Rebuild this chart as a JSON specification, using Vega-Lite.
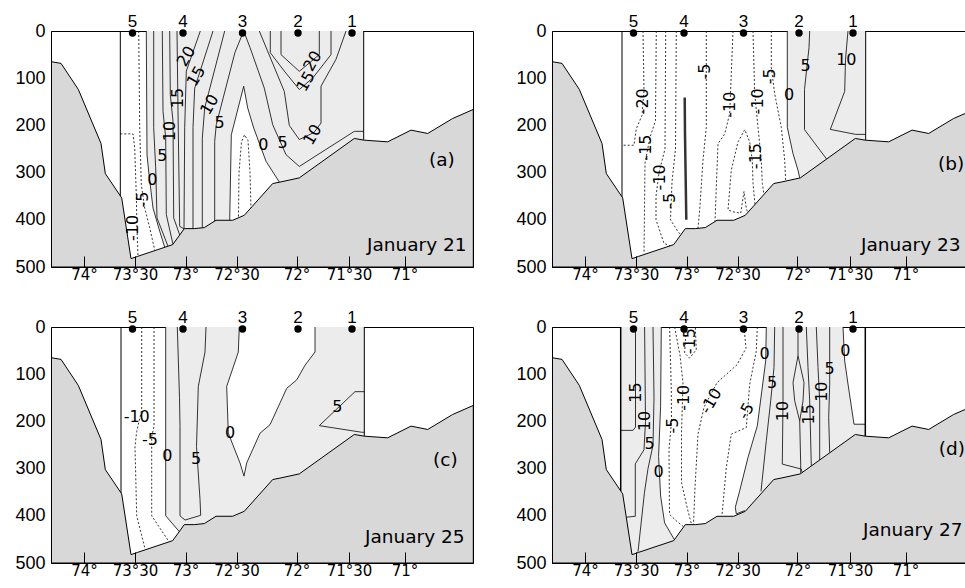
{
"$schema": "https://vega.github.io/schema/vega-lite/v6.json",
"padding": {"left": 14, "top": 12, "right": 0, "bottom": 0},
"background": "white",
"config": {"view": {"stroke": "#000000", "strokeWidth": 1}, "axis": {"grid": false}},
"datasets": {
"topo": [
{"s":0,"dist":0,"depth":65},{"s":1,"dist":10,"depth":68.6},{"s":2,"dist":27.3,"depth":123.7},{"s":3,"dist":50,"depth":238.3},{"s":4,"dist":54.3,"depth":302},{"s":5,"dist":70.7,"depth":353.6},{"s":6,"dist":80,"depth":482.3},{"s":7,"dist":86.7,"depth":477.4},{"s":8,"dist":121.7,"depth":452.6},{"s":9,"dist":133.3,"depth":418.7},{"s":10,"dist":143.3,"depth":418.7},{"s":11,"dist":153.3,"depth":416.5},{"s":12,"dist":165,"depth":401},{"s":13,"dist":181.7,"depth":401},{"s":14,"dist":193.3,"depth":390.4},{"s":15,"dist":221.7,"depth":323.2},{"s":16,"dist":230,"depth":319.7},{"s":17,"dist":248.3,"depth":311.2},{"s":18,"dist":303.3,"depth":227.7},{"s":19,"dist":313.3,"depth":231.3},{"s":20,"dist":336.7,"depth":234.8},{"s":21,"dist":360,"depth":210},{"s":22,"dist":376.7,"depth":217.1},{"s":23,"dist":401.7,"depth":185.3},{"s":24,"dist":422.3,"depth":166.2},{"s":25,"dist":422.3,"depth":500},{"s":26,"dist":0,"depth":500},{"s":27,"dist":0,"depth":65}
],
"stations": [
{"st":"5","dist":81.5,"depth":0},{"st":"4","dist":132,"depth":0},{"st":"3","dist":191.5,"depth":0},{"st":"2","dist":247,"depth":0},{"st":"1","dist":301,"depth":0}
],
"edges": [
{"p":"a","id":"L","s":0,"dist":69.3,"depth":0},{"p":"a","id":"L","s":1,"dist":69.3,"depth":350},
{"p":"a","id":"R","s":0,"dist":312.7,"depth":0},{"p":"a","id":"R","s":1,"dist":312.7,"depth":231},
{"p":"b","id":"L","s":0,"dist":70,"depth":0},{"p":"b","id":"L","s":1,"dist":70,"depth":352},
{"p":"b","id":"R","s":0,"dist":313.7,"depth":0},{"p":"b","id":"R","s":1,"dist":313.7,"depth":232},
{"p":"c","id":"L","s":0,"dist":70,"depth":0},{"p":"c","id":"L","s":1,"dist":70,"depth":352},
{"p":"c","id":"R","s":0,"dist":313.3,"depth":0},{"p":"c","id":"R","s":1,"dist":313.3,"depth":232},
{"p":"d","id":"L","s":0,"dist":68.7,"depth":0},{"p":"d","id":"L","s":1,"dist":68.7,"depth":348},
{"p":"d","id":"R","s":0,"dist":313.3,"depth":0},{"p":"d","id":"R","s":1,"dist":313.3,"depth":232}
],
"thick": [
{"s":0,"dist":132.7,"depth":141},{"s":1,"dist":133,"depth":218},{"s":2,"dist":134.3,"depth":400}
],
"fills": [
{"p":"a","k":"pos","id":"a1","s":0,"dist":95.3,"depth":0},{"p":"a","k":"pos","id":"a1","s":1,"dist":96,"depth":262},{"p":"a","k":"pos","id":"a1","s":2,"dist":98,"depth":304},{"p":"a","k":"pos","id":"a1","s":3,"dist":102,"depth":375},{"p":"a","k":"pos","id":"a1","s":4,"dist":108.7,"depth":424},{"p":"a","k":"pos","id":"a1","s":5,"dist":113.7,"depth":458},{"p":"a","k":"pos","id":"a1","s":6,"dist":113.7,"depth":500},{"p":"a","k":"pos","id":"a1","s":7,"dist":312.7,"depth":500},{"p":"a","k":"pos","id":"a1","s":8,"dist":312.7,"depth":0},
{"p":"a","k":"neg","id":"a2","s":0,"dist":178.7,"depth":402},{"p":"a","k":"neg","id":"a2","s":1,"dist":180.3,"depth":220},{"p":"a","k":"neg","id":"a2","s":2,"dist":192.7,"depth":117},{"p":"a","k":"neg","id":"a2","s":3,"dist":196.7,"depth":163},{"p":"a","k":"neg","id":"a2","s":4,"dist":202.7,"depth":205.5},{"p":"a","k":"neg","id":"a2","s":5,"dist":215,"depth":276},{"p":"a","k":"neg","id":"a2","s":6,"dist":228.3,"depth":320},{"p":"a","k":"neg","id":"a2","s":7,"dist":228.3,"depth":500},{"p":"a","k":"neg","id":"a2","s":8,"dist":178.7,"depth":500},
{"p":"b","k":"pos","id":"b1","s":0,"dist":235.3,"depth":0},{"p":"b","k":"pos","id":"b1","s":1,"dist":235.3,"depth":204},{"p":"b","k":"pos","id":"b1","s":2,"dist":241,"depth":260},{"p":"b","k":"pos","id":"b1","s":3,"dist":246,"depth":295},{"p":"b","k":"pos","id":"b1","s":4,"dist":247.7,"depth":311},{"p":"b","k":"pos","id":"b1","s":5,"dist":247.7,"depth":500},{"p":"b","k":"pos","id":"b1","s":6,"dist":313.7,"depth":500},{"p":"b","k":"pos","id":"b1","s":7,"dist":313.7,"depth":0},
{"p":"c","k":"pos","id":"c1","s":0,"dist":114.7,"depth":0},{"p":"c","k":"pos","id":"c1","s":1,"dist":114.7,"depth":400},{"p":"c","k":"pos","id":"c1","s":2,"dist":128.5,"depth":434},{"p":"c","k":"pos","id":"c1","s":3,"dist":128.5,"depth":500},{"p":"c","k":"pos","id":"c1","s":4,"dist":313.3,"depth":500},{"p":"c","k":"pos","id":"c1","s":5,"dist":313.3,"depth":0},
{"p":"c","k":"neg","id":"c2","s":0,"dist":188.3,"depth":0},{"p":"c","k":"neg","id":"c2","s":1,"dist":187.3,"depth":53},{"p":"c","k":"neg","id":"c2","s":2,"dist":175.7,"depth":126},{"p":"c","k":"neg","id":"c2","s":3,"dist":177.3,"depth":225},{"p":"c","k":"neg","id":"c2","s":4,"dist":189,"depth":288},{"p":"c","k":"neg","id":"c2","s":5,"dist":193,"depth":316},{"p":"c","k":"neg","id":"c2","s":6,"dist":195.7,"depth":288},{"p":"c","k":"neg","id":"c2","s":7,"dist":209,"depth":225},{"p":"c","k":"neg","id":"c2","s":8,"dist":219,"depth":207},{"p":"c","k":"neg","id":"c2","s":9,"dist":235.7,"depth":130},{"p":"c","k":"neg","id":"c2","s":10,"dist":245.7,"depth":112},{"p":"c","k":"neg","id":"c2","s":11,"dist":254,"depth":81},{"p":"c","k":"neg","id":"c2","s":12,"dist":264,"depth":53},{"p":"c","k":"neg","id":"c2","s":13,"dist":264,"depth":0},
{"p":"d","k":"pos","id":"d1","s":0,"dist":68.7,"depth":0},{"p":"d","k":"pos","id":"d1","s":1,"dist":109.3,"depth":0},{"p":"d","k":"pos","id":"d1","s":2,"dist":108.6,"depth":168},{"p":"d","k":"pos","id":"d1","s":3,"dist":106.6,"depth":274},{"p":"d","k":"pos","id":"d1","s":4,"dist":108.6,"depth":358},{"p":"d","k":"pos","id":"d1","s":5,"dist":112.6,"depth":415},{"p":"d","k":"pos","id":"d1","s":6,"dist":122.5,"depth":451},{"p":"d","k":"pos","id":"d1","s":7,"dist":122.5,"depth":500},{"p":"d","k":"pos","id":"d1","s":8,"dist":68.7,"depth":500},
{"p":"d","k":"pos","id":"d2","s":0,"dist":214.3,"depth":0},{"p":"d","k":"pos","id":"d2","s":1,"dist":213.7,"depth":72},{"p":"d","k":"pos","id":"d2","s":2,"dist":205.3,"depth":209.4},{"p":"d","k":"pos","id":"d2","s":3,"dist":196,"depth":276.4},{"p":"d","k":"pos","id":"d2","s":4,"dist":187.7,"depth":347},{"p":"d","k":"pos","id":"d2","s":5,"dist":183.3,"depth":382},{"p":"d","k":"pos","id":"d2","s":6,"dist":184.3,"depth":396},{"p":"d","k":"pos","id":"d2","s":7,"dist":192.7,"depth":389},{"p":"d","k":"pos","id":"d2","s":8,"dist":192.7,"depth":500},{"p":"d","k":"pos","id":"d2","s":9,"dist":313.3,"depth":500},{"p":"d","k":"pos","id":"d2","s":10,"dist":313.3,"depth":206},{"p":"d","k":"pos","id":"d2","s":11,"dist":302,"depth":206},{"p":"d","k":"pos","id":"d2","s":12,"dist":296,"depth":121},{"p":"d","k":"pos","id":"d2","s":13,"dist":292.7,"depth":72},{"p":"d","k":"pos","id":"d2","s":14,"dist":291,"depth":0}
],
"cont": [
{"p":"a","id":"a1","lv":-10,"s":0,"dist":69.3,"depth":218},{"p":"a","id":"a1","lv":-10,"s":1,"dist":82,"depth":218},{"p":"a","id":"a1","lv":-10,"s":2,"dist":83.7,"depth":248},{"p":"a","id":"a1","lv":-10,"s":3,"dist":85.3,"depth":347},{"p":"a","id":"a1","lv":-10,"s":4,"dist":86,"depth":418},{"p":"a","id":"a1","lv":-10,"s":5,"dist":87,"depth":477},
{"p":"a","id":"a2","lv":-5,"s":0,"dist":87.7,"depth":0},{"p":"a","id":"a2","lv":-5,"s":1,"dist":88.7,"depth":205},{"p":"a","id":"a2","lv":-5,"s":2,"dist":90.3,"depth":325},{"p":"a","id":"a2","lv":-5,"s":3,"dist":93.7,"depth":375},{"p":"a","id":"a2","lv":-5,"s":4,"dist":98.7,"depth":417},{"p":"a","id":"a2","lv":-5,"s":5,"dist":103.7,"depth":464},
{"p":"a","id":"a3","lv":-5,"s":0,"dist":187.5,"depth":393},{"p":"a","id":"a3","lv":-5,"s":1,"dist":188,"depth":300},{"p":"a","id":"a3","lv":-5,"s":2,"dist":190.5,"depth":235},{"p":"a","id":"a3","lv":-5,"s":3,"dist":193.5,"depth":220},{"p":"a","id":"a3","lv":-5,"s":4,"dist":197,"depth":232},{"p":"a","id":"a3","lv":-5,"s":5,"dist":199,"depth":300},{"p":"a","id":"a3","lv":-5,"s":6,"dist":200,"depth":376},
{"p":"a","id":"a4","lv":0,"s":0,"dist":95.3,"depth":0},{"p":"a","id":"a4","lv":0,"s":1,"dist":96,"depth":262},{"p":"a","id":"a4","lv":0,"s":2,"dist":98,"depth":304},{"p":"a","id":"a4","lv":0,"s":3,"dist":102,"depth":375},{"p":"a","id":"a4","lv":0,"s":4,"dist":108.7,"depth":424},{"p":"a","id":"a4","lv":0,"s":5,"dist":113.7,"depth":458},
{"p":"a","id":"a5","lv":5,"s":0,"dist":102.7,"depth":0},{"p":"a","id":"a5","lv":5,"s":1,"dist":102.7,"depth":205},{"p":"a","id":"a5","lv":5,"s":2,"dist":104.7,"depth":290},{"p":"a","id":"a5","lv":5,"s":3,"dist":106,"depth":396},{"p":"a","id":"a5","lv":5,"s":4,"dist":117,"depth":456},
{"p":"a","id":"a6","lv":10,"s":0,"dist":111.3,"depth":0},{"p":"a","id":"a6","lv":10,"s":1,"dist":112,"depth":170},{"p":"a","id":"a6","lv":10,"s":2,"dist":114.7,"depth":227},{"p":"a","id":"a6","lv":10,"s":3,"dist":115.3,"depth":389},{"p":"a","id":"a6","lv":10,"s":4,"dist":122,"depth":452},
{"p":"a","id":"a7","lv":15,"s":0,"dist":118.7,"depth":0},{"p":"a","id":"a7","lv":15,"s":1,"dist":119.3,"depth":135},{"p":"a","id":"a7","lv":15,"s":2,"dist":122,"depth":191},{"p":"a","id":"a7","lv":15,"s":3,"dist":122.7,"depth":396},{"p":"a","id":"a7","lv":15,"s":4,"dist":128.7,"depth":432},
{"p":"a","id":"a8","lv":20,"s":0,"dist":126,"depth":0},{"p":"a","id":"a8","lv":20,"s":1,"dist":127,"depth":170},{"p":"a","id":"a8","lv":20,"s":2,"dist":128.7,"depth":414},{"p":"a","id":"a8","lv":20,"s":3,"dist":133,"depth":419},{"p":"a","id":"a8","lv":20,"s":4,"dist":133.7,"depth":205},{"p":"a","id":"a8","lv":20,"s":5,"dist":135.3,"depth":85},{"p":"a","id":"a8","lv":20,"s":6,"dist":149.3,"depth":0},
{"p":"a","id":"a9","lv":15,"s":0,"dist":162,"depth":0},{"p":"a","id":"a9","lv":15,"s":1,"dist":143.7,"depth":121},{"p":"a","id":"a9","lv":15,"s":2,"dist":142,"depth":205},{"p":"a","id":"a9","lv":15,"s":3,"dist":142,"depth":419},
{"p":"a","id":"a10","lv":10,"s":0,"dist":173.7,"depth":0},{"p":"a","id":"a10","lv":10,"s":1,"dist":153.7,"depth":163},{"p":"a","id":"a10","lv":10,"s":2,"dist":151.3,"depth":227},{"p":"a","id":"a10","lv":10,"s":3,"dist":151.3,"depth":417},
{"p":"a","id":"a11","lv":5,"s":0,"dist":163.7,"depth":404},{"p":"a","id":"a11","lv":5,"s":1,"dist":163.7,"depth":234},{"p":"a","id":"a11","lv":5,"s":2,"dist":165.3,"depth":198},{"p":"a","id":"a11","lv":5,"s":3,"dist":184,"depth":45},{"p":"a","id":"a11","lv":5,"s":4,"dist":192.7,"depth":0},{"p":"a","id":"a11","lv":5,"s":5,"dist":199,"depth":35},{"p":"a","id":"a11","lv":5,"s":6,"dist":213.3,"depth":121},{"p":"a","id":"a11","lv":5,"s":7,"dist":221.7,"depth":198.5},{"p":"a","id":"a11","lv":5,"s":8,"dist":235,"depth":262},{"p":"a","id":"a11","lv":5,"s":9,"dist":248.3,"depth":287},{"p":"a","id":"a11","lv":5,"s":10,"dist":303.3,"depth":212.6},{"p":"a","id":"a11","lv":5,"s":11,"dist":312.7,"depth":212.6},
{"p":"a","id":"a12","lv":0,"s":0,"dist":178.7,"depth":402},{"p":"a","id":"a12","lv":0,"s":1,"dist":180.3,"depth":220},{"p":"a","id":"a12","lv":0,"s":2,"dist":192.7,"depth":117},{"p":"a","id":"a12","lv":0,"s":3,"dist":196.7,"depth":163},{"p":"a","id":"a12","lv":0,"s":4,"dist":202.7,"depth":205.5},{"p":"a","id":"a12","lv":0,"s":5,"dist":215,"depth":276},{"p":"a","id":"a12","lv":0,"s":6,"dist":228.3,"depth":320},
{"p":"a","id":"a13","lv":10,"s":0,"dist":208.3,"depth":0},{"p":"a","id":"a13","lv":10,"s":1,"dist":220,"depth":60},{"p":"a","id":"a13","lv":10,"s":2,"dist":233.3,"depth":128},{"p":"a","id":"a13","lv":10,"s":3,"dist":238.3,"depth":200},{"p":"a","id":"a13","lv":10,"s":4,"dist":248.3,"depth":230},{"p":"a","id":"a13","lv":10,"s":5,"dist":263,"depth":215},{"p":"a","id":"a13","lv":10,"s":6,"dist":270,"depth":195},{"p":"a","id":"a13","lv":10,"s":7,"dist":270,"depth":117},{"p":"a","id":"a13","lv":10,"s":8,"dist":285,"depth":60},{"p":"a","id":"a13","lv":10,"s":9,"dist":295,"depth":0},
{"p":"a","id":"a14","lv":15,"s":0,"dist":219.3,"depth":0},{"p":"a","id":"a14","lv":15,"s":1,"dist":219.3,"depth":46},{"p":"a","id":"a14","lv":15,"s":2,"dist":233.3,"depth":85},{"p":"a","id":"a14","lv":15,"s":3,"dist":248.3,"depth":124},{"p":"a","id":"a14","lv":15,"s":4,"dist":262,"depth":99},{"p":"a","id":"a14","lv":15,"s":5,"dist":280,"depth":50},{"p":"a","id":"a14","lv":15,"s":6,"dist":280,"depth":0},
{"p":"a","id":"a15","lv":20,"s":0,"dist":230,"depth":0},{"p":"a","id":"a15","lv":20,"s":1,"dist":230,"depth":50},{"p":"a","id":"a15","lv":20,"s":2,"dist":248.3,"depth":85.5},{"p":"a","id":"a15","lv":20,"s":3,"dist":268.3,"depth":50},{"p":"a","id":"a15","lv":20,"s":4,"dist":268.3,"depth":0},
{"p":"b","id":"b1","lv":-20,"s":0,"dist":91,"depth":0},{"p":"b","id":"b1","lv":-20,"s":1,"dist":92,"depth":126},{"p":"b","id":"b1","lv":-20,"s":2,"dist":90,"depth":179},{"p":"b","id":"b1","lv":-20,"s":3,"dist":84.3,"depth":207},{"p":"b","id":"b1","lv":-20,"s":4,"dist":82,"depth":242},{"p":"b","id":"b1","lv":-20,"s":5,"dist":70,"depth":242},
{"p":"b","id":"b2","lv":-15,"s":0,"dist":104.3,"depth":0},{"p":"b","id":"b2","lv":-15,"s":1,"dist":103.5,"depth":190},{"p":"b","id":"b2","lv":-15,"s":2,"dist":98,"depth":225},{"p":"b","id":"b2","lv":-15,"s":3,"dist":93,"depth":280},{"p":"b","id":"b2","lv":-15,"s":4,"dist":92,"depth":472},
{"p":"b","id":"b3","lv":-10,"s":0,"dist":113.7,"depth":0},{"p":"b","id":"b3","lv":-10,"s":1,"dist":113,"depth":250},{"p":"b","id":"b3","lv":-10,"s":2,"dist":107,"depth":300},{"p":"b","id":"b3","lv":-10,"s":3,"dist":104,"depth":350},{"p":"b","id":"b3","lv":-10,"s":4,"dist":104,"depth":400},{"p":"b","id":"b3","lv":-10,"s":5,"dist":112,"depth":450},{"p":"b","id":"b3","lv":-10,"s":6,"dist":118,"depth":455},
{"p":"b","id":"b4","lv":-5,"s":0,"dist":124.3,"depth":0},{"p":"b","id":"b4","lv":-5,"s":1,"dist":123.5,"depth":250},{"p":"b","id":"b4","lv":-5,"s":2,"dist":120,"depth":320},{"p":"b","id":"b4","lv":-5,"s":3,"dist":118.5,"depth":400},{"p":"b","id":"b4","lv":-5,"s":4,"dist":126,"depth":425},{"p":"b","id":"b4","lv":-5,"s":5,"dist":129,"depth":432},
{"p":"b","id":"b5","lv":-5,"s":0,"dist":154.3,"depth":0},{"p":"b","id":"b5","lv":-5,"s":1,"dist":154.3,"depth":204},{"p":"b","id":"b5","lv":-5,"s":2,"dist":151,"depth":274},{"p":"b","id":"b5","lv":-5,"s":3,"dist":147.7,"depth":379},{"p":"b","id":"b5","lv":-5,"s":4,"dist":146,"depth":418},
{"p":"b","id":"b6","lv":-10,"s":0,"dist":181,"depth":0},{"p":"b","id":"b6","lv":-10,"s":1,"dist":177.7,"depth":175},{"p":"b","id":"b6","lv":-10,"s":2,"dist":172.7,"depth":218},{"p":"b","id":"b6","lv":-10,"s":3,"dist":166,"depth":239},{"p":"b","id":"b6","lv":-10,"s":4,"dist":164.3,"depth":330},{"p":"b","id":"b6","lv":-10,"s":5,"dist":163,"depth":404},
{"p":"b","id":"b7","lv":-15,"s":0,"dist":203,"depth":367},{"p":"b","id":"b7","lv":-15,"s":1,"dist":201,"depth":323},{"p":"b","id":"b7","lv":-15,"s":2,"dist":200.3,"depth":274},{"p":"b","id":"b7","lv":-15,"s":3,"dist":197.7,"depth":235},{"p":"b","id":"b7","lv":-15,"s":4,"dist":192.7,"depth":209},{"p":"b","id":"b7","lv":-15,"s":5,"dist":186,"depth":235},{"p":"b","id":"b7","lv":-15,"s":6,"dist":179.3,"depth":295},{"p":"b","id":"b7","lv":-15,"s":7,"dist":176,"depth":379},{"p":"b","id":"b7","lv":-15,"s":8,"dist":181,"depth":383},{"p":"b","id":"b7","lv":-15,"s":9,"dist":188.7,"depth":386},{"p":"b","id":"b7","lv":-15,"s":10,"dist":192,"depth":340},{"p":"b","id":"b7","lv":-15,"s":11,"dist":194.3,"depth":376},{"p":"b","id":"b7","lv":-15,"s":12,"dist":196,"depth":386},
{"p":"b","id":"b8","lv":-10,"s":0,"dist":201,"depth":0},{"p":"b","id":"b8","lv":-10,"s":1,"dist":202.7,"depth":133},{"p":"b","id":"b8","lv":-10,"s":2,"dist":206,"depth":204},{"p":"b","id":"b8","lv":-10,"s":3,"dist":209.3,"depth":274},{"p":"b","id":"b8","lv":-10,"s":4,"dist":210.3,"depth":323},{"p":"b","id":"b8","lv":-10,"s":5,"dist":212,"depth":346},
{"p":"b","id":"b9","lv":-5,"s":0,"dist":219.3,"depth":0},{"p":"b","id":"b9","lv":-5,"s":1,"dist":219.3,"depth":77},{"p":"b","id":"b9","lv":-5,"s":2,"dist":222.7,"depth":133},{"p":"b","id":"b9","lv":-5,"s":3,"dist":229.3,"depth":204},{"p":"b","id":"b9","lv":-5,"s":4,"dist":232.7,"depth":274},{"p":"b","id":"b9","lv":-5,"s":5,"dist":233.7,"depth":318},
{"p":"b","id":"b10","lv":0,"s":0,"dist":235.3,"depth":0},{"p":"b","id":"b10","lv":0,"s":1,"dist":235.3,"depth":204},{"p":"b","id":"b10","lv":0,"s":2,"dist":241,"depth":260},{"p":"b","id":"b10","lv":0,"s":3,"dist":246,"depth":295},{"p":"b","id":"b10","lv":0,"s":4,"dist":247.7,"depth":311},
{"p":"b","id":"b11","lv":5,"s":0,"dist":257.7,"depth":0},{"p":"b","id":"b11","lv":5,"s":1,"dist":257,"depth":35},{"p":"b","id":"b11","lv":5,"s":2,"dist":252.5,"depth":124},{"p":"b","id":"b11","lv":5,"s":3,"dist":252.5,"depth":209},{"p":"b","id":"b11","lv":5,"s":4,"dist":274.5,"depth":271},
{"p":"b","id":"b12","lv":10,"s":0,"dist":296,"depth":0},{"p":"b","id":"b12","lv":10,"s":1,"dist":293.5,"depth":60},{"p":"b","id":"b12","lv":10,"s":2,"dist":292.7,"depth":128},{"p":"b","id":"b12","lv":10,"s":3,"dist":278.3,"depth":208.5},{"p":"b","id":"b12","lv":10,"s":4,"dist":303.7,"depth":219},{"p":"b","id":"b12","lv":10,"s":5,"dist":313.7,"depth":219},
{"p":"c","id":"c1","lv":-10,"s":0,"dist":90.7,"depth":0},{"p":"c","id":"c1","lv":-10,"s":1,"dist":90.7,"depth":176},{"p":"c","id":"c1","lv":-10,"s":2,"dist":85.7,"depth":221},{"p":"c","id":"c1","lv":-10,"s":3,"dist":84,"depth":253},{"p":"c","id":"c1","lv":-10,"s":4,"dist":85.7,"depth":400},{"p":"c","id":"c1","lv":-10,"s":5,"dist":94,"depth":470},
{"p":"c","id":"c2","lv":-5,"s":0,"dist":103,"depth":0},{"p":"c","id":"c2","lv":-5,"s":1,"dist":103,"depth":211},{"p":"c","id":"c2","lv":-5,"s":2,"dist":100.7,"depth":232},{"p":"c","id":"c2","lv":-5,"s":3,"dist":100.7,"depth":400},{"p":"c","id":"c2","lv":-5,"s":4,"dist":118,"depth":455},
{"p":"c","id":"c3","lv":0,"s":0,"dist":114.7,"depth":0},{"p":"c","id":"c3","lv":0,"s":1,"dist":114.7,"depth":400},{"p":"c","id":"c3","lv":0,"s":2,"dist":128.5,"depth":434},
{"p":"c","id":"c4","lv":5,"s":0,"dist":126.3,"depth":0},{"p":"c","id":"c4","lv":5,"s":1,"dist":128.5,"depth":150},{"p":"c","id":"c4","lv":5,"s":2,"dist":129,"depth":211},{"p":"c","id":"c4","lv":5,"s":3,"dist":129,"depth":400},{"p":"c","id":"c4","lv":5,"s":4,"dist":134,"depth":409},{"p":"c","id":"c4","lv":5,"s":5,"dist":149.7,"depth":399},{"p":"c","id":"c4","lv":5,"s":6,"dist":149,"depth":365},{"p":"c","id":"c4","lv":5,"s":7,"dist":145.5,"depth":253},{"p":"c","id":"c4","lv":5,"s":8,"dist":147.3,"depth":126},{"p":"c","id":"c4","lv":5,"s":9,"dist":154,"depth":53},{"p":"c","id":"c4","lv":5,"s":10,"dist":155,"depth":0},
{"p":"c","id":"c5","lv":0,"s":0,"dist":188.3,"depth":0},{"p":"c","id":"c5","lv":0,"s":1,"dist":187.3,"depth":53},{"p":"c","id":"c5","lv":0,"s":2,"dist":175.7,"depth":126},{"p":"c","id":"c5","lv":0,"s":3,"dist":177.3,"depth":225},{"p":"c","id":"c5","lv":0,"s":4,"dist":189,"depth":288},{"p":"c","id":"c5","lv":0,"s":5,"dist":193,"depth":316},{"p":"c","id":"c5","lv":0,"s":6,"dist":195.7,"depth":288},{"p":"c","id":"c5","lv":0,"s":7,"dist":209,"depth":225},{"p":"c","id":"c5","lv":0,"s":8,"dist":219,"depth":207},{"p":"c","id":"c5","lv":0,"s":9,"dist":235.7,"depth":130},{"p":"c","id":"c5","lv":0,"s":10,"dist":245.7,"depth":112},{"p":"c","id":"c5","lv":0,"s":11,"dist":254,"depth":81},{"p":"c","id":"c5","lv":0,"s":12,"dist":264,"depth":53},{"p":"c","id":"c5","lv":0,"s":13,"dist":264,"depth":0},
{"p":"c","id":"c6","lv":5,"s":0,"dist":313.3,"depth":137},{"p":"c","id":"c6","lv":5,"s":1,"dist":304,"depth":137},{"p":"c","id":"c6","lv":5,"s":2,"dist":268.3,"depth":209},{"p":"c","id":"c6","lv":5,"s":3,"dist":310.7,"depth":223},{"p":"c","id":"c6","lv":5,"s":4,"dist":313.3,"depth":223},
{"p":"d","id":"d1","lv":15,"s":0,"dist":83.5,"depth":0},{"p":"d","id":"d1","lv":15,"s":1,"dist":83.5,"depth":212},{"p":"d","id":"d1","lv":15,"s":2,"dist":81,"depth":219},{"p":"d","id":"d1","lv":15,"s":3,"dist":68.7,"depth":219},
{"p":"d","id":"d2","lv":10,"s":0,"dist":92.6,"depth":0},{"p":"d","id":"d2","lv":10,"s":1,"dist":93.5,"depth":200},{"p":"d","id":"d2","lv":10,"s":2,"dist":92,"depth":260},{"p":"d","id":"d2","lv":10,"s":3,"dist":83.3,"depth":290},{"p":"d","id":"d2","lv":10,"s":4,"dist":83.3,"depth":401},{"p":"d","id":"d2","lv":10,"s":5,"dist":74.5,"depth":403},
{"p":"d","id":"d3","lv":5,"s":0,"dist":101,"depth":0},{"p":"d","id":"d3","lv":5,"s":1,"dist":102,"depth":150},{"p":"d","id":"d3","lv":5,"s":2,"dist":101,"depth":250},{"p":"d","id":"d3","lv":5,"s":3,"dist":96,"depth":300},{"p":"d","id":"d3","lv":5,"s":4,"dist":92.5,"depth":350},{"p":"d","id":"d3","lv":5,"s":5,"dist":86,"depth":476},
{"p":"d","id":"d4","lv":0,"s":0,"dist":109.3,"depth":0},{"p":"d","id":"d4","lv":0,"s":1,"dist":108.6,"depth":168},{"p":"d","id":"d4","lv":0,"s":2,"dist":106.6,"depth":274},{"p":"d","id":"d4","lv":0,"s":3,"dist":108.6,"depth":358},{"p":"d","id":"d4","lv":0,"s":4,"dist":112.6,"depth":415},{"p":"d","id":"d4","lv":0,"s":5,"dist":122.5,"depth":451},
{"p":"d","id":"d5","lv":-5,"s":0,"dist":117.6,"depth":0},{"p":"d","id":"d5","lv":-5,"s":1,"dist":119.3,"depth":133},{"p":"d","id":"d5","lv":-5,"s":2,"dist":119.5,"depth":200},{"p":"d","id":"d5","lv":-5,"s":3,"dist":117,"depth":260},{"p":"d","id":"d5","lv":-5,"s":4,"dist":117.5,"depth":397},{"p":"d","id":"d5","lv":-5,"s":5,"dist":125,"depth":412},{"p":"d","id":"d5","lv":-5,"s":6,"dist":131.5,"depth":423},
{"p":"d","id":"d6","lv":-10,"s":0,"dist":122.6,"depth":0},{"p":"d","id":"d6","lv":-10,"s":1,"dist":128,"depth":60},{"p":"d","id":"d6","lv":-10,"s":2,"dist":131,"depth":118},{"p":"d","id":"d6","lv":-10,"s":3,"dist":129.5,"depth":224},{"p":"d","id":"d6","lv":-10,"s":4,"dist":129.5,"depth":330},{"p":"d","id":"d6","lv":-10,"s":5,"dist":136,"depth":390},{"p":"d","id":"d6","lv":-10,"s":6,"dist":139.5,"depth":418},
{"p":"d","id":"d7","lv":-15,"s":0,"dist":134.3,"depth":0},{"p":"d","id":"d7","lv":-15,"s":1,"dist":132.6,"depth":55},{"p":"d","id":"d7","lv":-15,"s":2,"dist":137.6,"depth":66},{"p":"d","id":"d7","lv":-15,"s":3,"dist":144.3,"depth":48},{"p":"d","id":"d7","lv":-15,"s":4,"dist":143.3,"depth":0},
{"p":"d","id":"d8","lv":-10,"s":0,"dist":192,"depth":0},{"p":"d","id":"d8","lv":-10,"s":1,"dist":194,"depth":45},{"p":"d","id":"d8","lv":-10,"s":2,"dist":185,"depth":80},{"p":"d","id":"d8","lv":-10,"s":3,"dist":165,"depth":118},{"p":"d","id":"d8","lv":-10,"s":4,"dist":152,"depth":170},{"p":"d","id":"d8","lv":-10,"s":5,"dist":146,"depth":227},{"p":"d","id":"d8","lv":-10,"s":6,"dist":143,"depth":340},{"p":"d","id":"d8","lv":-10,"s":7,"dist":141.5,"depth":418},
{"p":"d","id":"d9","lv":-5,"s":0,"dist":205.3,"depth":0},{"p":"d","id":"d9","lv":-5,"s":1,"dist":204.3,"depth":51},{"p":"d","id":"d9","lv":-5,"s":2,"dist":197.7,"depth":121},{"p":"d","id":"d9","lv":-5,"s":3,"dist":194.3,"depth":213},{"p":"d","id":"d9","lv":-5,"s":4,"dist":179.3,"depth":227},{"p":"d","id":"d9","lv":-5,"s":5,"dist":174.3,"depth":298},{"p":"d","id":"d9","lv":-5,"s":6,"dist":170,"depth":399},
{"p":"d","id":"d10","lv":0,"s":0,"dist":214.3,"depth":0},{"p":"d","id":"d10","lv":0,"s":1,"dist":213.7,"depth":72},{"p":"d","id":"d10","lv":0,"s":2,"dist":205.3,"depth":209.4},{"p":"d","id":"d10","lv":0,"s":3,"dist":196,"depth":276.4},{"p":"d","id":"d10","lv":0,"s":4,"dist":187.7,"depth":347},{"p":"d","id":"d10","lv":0,"s":5,"dist":183.3,"depth":382},{"p":"d","id":"d10","lv":0,"s":6,"dist":184.3,"depth":396},{"p":"d","id":"d10","lv":0,"s":7,"dist":192.7,"depth":389},
{"p":"d","id":"d11","lv":5,"s":0,"dist":222.7,"depth":0},{"p":"d","id":"d11","lv":5,"s":1,"dist":222,"depth":86},{"p":"d","id":"d11","lv":5,"s":2,"dist":218.7,"depth":156.5},{"p":"d","id":"d11","lv":5,"s":3,"dist":214.3,"depth":241},{"p":"d","id":"d11","lv":5,"s":4,"dist":209,"depth":348},
{"p":"d","id":"d12","lv":10,"s":0,"dist":231,"depth":0},{"p":"d","id":"d12","lv":10,"s":1,"dist":231,"depth":156.6},{"p":"d","id":"d12","lv":10,"s":2,"dist":230.3,"depth":290.5},{"p":"d","id":"d12","lv":10,"s":3,"dist":249.3,"depth":301},{"p":"d","id":"d12","lv":10,"s":4,"dist":250,"depth":308},
{"p":"d","id":"d13","lv":15,"s":0,"dist":246,"depth":0},{"p":"d","id":"d13","lv":15,"s":1,"dist":246,"depth":61},{"p":"d","id":"d13","lv":15,"s":2,"dist":241,"depth":118},{"p":"d","id":"d13","lv":15,"s":3,"dist":242.7,"depth":156.6},{"p":"d","id":"d13","lv":15,"s":4,"dist":247.7,"depth":199},{"p":"d","id":"d13","lv":15,"s":5,"dist":248.7,"depth":290.5},{"p":"d","id":"d13","lv":15,"s":6,"dist":248.7,"depth":310},
{"p":"d","id":"d14","lv":15,"s":0,"dist":246,"depth":61},{"p":"d","id":"d14","lv":15,"s":1,"dist":252,"depth":118},{"p":"d","id":"d14","lv":15,"s":2,"dist":251,"depth":156.6},{"p":"d","id":"d14","lv":15,"s":3,"dist":247.7,"depth":199},
{"p":"d","id":"d15","lv":15,"s":0,"dist":254.3,"depth":0},{"p":"d","id":"d15","lv":15,"s":1,"dist":256,"depth":86},{"p":"d","id":"d15","lv":15,"s":2,"dist":257.7,"depth":156.6},{"p":"d","id":"d15","lv":15,"s":3,"dist":259.3,"depth":294},
{"p":"d","id":"d16","lv":10,"s":0,"dist":264.3,"depth":0},{"p":"d","id":"d16","lv":10,"s":1,"dist":266,"depth":86},{"p":"d","id":"d16","lv":10,"s":2,"dist":267.7,"depth":156.6},{"p":"d","id":"d16","lv":10,"s":3,"dist":267.7,"depth":282},
{"p":"d","id":"d17","lv":5,"s":0,"dist":277.7,"depth":0},{"p":"d","id":"d17","lv":5,"s":1,"dist":277.7,"depth":121},{"p":"d","id":"d17","lv":5,"s":2,"dist":276.7,"depth":192},{"p":"d","id":"d17","lv":5,"s":3,"dist":277.7,"depth":266},
{"p":"d","id":"d18","lv":0,"s":0,"dist":291,"depth":0},{"p":"d","id":"d18","lv":0,"s":1,"dist":292.7,"depth":72},{"p":"d","id":"d18","lv":0,"s":2,"dist":296,"depth":121},{"p":"d","id":"d18","lv":0,"s":3,"dist":302,"depth":206},{"p":"d","id":"d18","lv":0,"s":4,"dist":313.3,"depth":206}
],
"labels": [
{"p":"a","o":"h","t":"5","dist":111.3,"depth":265},{"p":"a","o":"h","t":"0","dist":101.3,"depth":315},{"p":"a","o":"h","t":"5","dist":168.7,"depth":195},{"p":"a","o":"h","t":"0","dist":212.3,"depth":241},{"p":"a","o":"h","t":"5","dist":231.7,"depth":237},
{"p":"a","o":"v","t":"15","dist":127,"depth":142},{"p":"a","o":"v","t":"10","dist":119.3,"depth":212},{"p":"a","o":"v","t":"-10","dist":82,"depth":417},{"p":"a","o":"v","t":"-5","dist":92,"depth":357},
{"p":"a","o":"d","t":"20","dist":135.3,"depth":54},{"p":"a","o":"d","t":"15","dist":145.3,"depth":96},{"p":"a","o":"d","t":"10","dist":158.7,"depth":156},{"p":"a","o":"d","t":"15","dist":255,"depth":107},{"p":"a","o":"d","t":"20","dist":261.7,"depth":64},{"p":"a","o":"d","t":"10","dist":261.7,"depth":220},
{"p":"b","o":"v","t":"-20","dist":91,"depth":149},{"p":"b","o":"v","t":"-15","dist":94.3,"depth":247},{"p":"b","o":"v","t":"-10","dist":107.7,"depth":310},{"p":"b","o":"v","t":"-5","dist":117.7,"depth":360},{"p":"b","o":"v","t":"-5","dist":152.7,"depth":86},{"p":"b","o":"v","t":"-10","dist":177.7,"depth":156},{"p":"b","o":"v","t":"-10","dist":206,"depth":149},{"p":"b","o":"v","t":"-5","dist":217.7,"depth":96},{"p":"b","o":"v","t":"-15","dist":204.3,"depth":265},
{"p":"b","o":"h","t":"0","dist":237,"depth":135},{"p":"b","o":"h","t":"5","dist":253.7,"depth":75},{"p":"b","o":"h","t":"10","dist":294.3,"depth":61},
{"p":"c","o":"h","t":"-10","dist":85.7,"depth":190},{"p":"c","o":"h","t":"-5","dist":99,"depth":239},{"p":"c","o":"h","t":"0","dist":116.3,"depth":274},{"p":"c","o":"h","t":"5","dist":145,"depth":279.5},{"p":"c","o":"h","t":"0","dist":179,"depth":225},{"p":"c","o":"h","t":"5","dist":286.3,"depth":170},
{"p":"d","o":"v","t":"15","dist":84.3,"depth":139},{"p":"d","o":"v","t":"10","dist":92.7,"depth":199},{"p":"d","o":"v","t":"-5","dist":121,"depth":209},{"p":"d","o":"v","t":"-10","dist":132,"depth":150},{"p":"d","o":"v","t":"-15","dist":137.7,"depth":30},{"p":"d","o":"v","t":"10","dist":231,"depth":178},{"p":"d","o":"v","t":"15","dist":256.7,"depth":185},{"p":"d","o":"v","t":"10","dist":270,"depth":137},
{"p":"d","o":"d","t":"-10","dist":159.3,"depth":157},{"p":"d","o":"d","t":"-5","dist":194.3,"depth":178},
{"p":"d","o":"h","t":"5","dist":97.7,"depth":248},{"p":"d","o":"h","t":"0","dist":106.7,"depth":308},{"p":"d","o":"h","t":"0","dist":212.7,"depth":58},{"p":"d","o":"h","t":"5","dist":220,"depth":118},{"p":"d","o":"h","t":"5","dist":277.7,"depth":90},{"p":"d","o":"h","t":"0","dist":293.3,"depth":51}
],
"notes": [
{"p":"a","t":"(a)","dist":378,"depth":274},{"p":"a","t":"January 21","dist":316,"depth":453},
{"p":"b","t":"(b)","dist":386,"depth":282},{"p":"b","t":"January 23","dist":309,"depth":453},
{"p":"c","t":"(c)","dist":382,"depth":281},{"p":"c","t":"January 25","dist":314,"depth":444},
{"p":"d","t":"(d)","dist":386.7,"depth":259},{"p":"d","t":"January 27","dist":311,"depth":431}
]
},
"spacing": 25,
"vconcat": [
{"hconcat": [
{"width": 422, "height": 236,
"encoding": {
"x": {"field":"dist","type":"quantitative","scale":{"domain":[0,422],"nice":false,"zero":false},"axis":{"title":null,"values":[33,84,134.5,185.5,245.5,298,353.5],"labelExpr":"datum.value < 50 ? '74°' : datum.value < 100 ? '73°30' : datum.value < 160 ? '73°' : datum.value < 210 ? '72°30' : datum.value < 270 ? '72°' : datum.value < 320 ? '71°30' : '71°'","tickSize":-11,"tickColor":"#000000","labelPadding":11,"labelFont":"DejaVu Sans","labelFontSize":15,"labelColor":"#000000","labelOverlap":false,"labelFlush":false,"domainColor":"#000000","grid":false,"zindex":1}},
"y": {"field":"depth","type":"quantitative","scale":{"domain":[0,500],"reverse":true,"nice":false,"zero":false},"axis":{"title":null,"values":[0,100,200,300,400,500],"ticks":false,"labelPadding":6,"labelFont":"Liberation Sans","labelFontSize":18,"labelColor":"#000000","domainColor":"#000000","grid":false,"zindex":1}}
},
"layer": [
{"data":{"name":"fills"},"transform":[{"filter":"datum.p=='a' && datum.k=='pos'"}],"mark":{"type":"line","fill":"#ececec","strokeOpacity":0,"clip":true},"encoding":{"detail":{"field":"id"},"order":{"field":"s","type":"quantitative"}}},
{"data":{"name":"fills"},"transform":[{"filter":"datum.p=='a' && datum.k=='neg'"}],"mark":{"type":"line","fill":"#ffffff","strokeOpacity":0,"clip":true},"encoding":{"detail":{"field":"id"},"order":{"field":"s","type":"quantitative"}}},
{"data":{"name":"cont"},"transform":[{"filter":"datum.p=='a' && datum.lv>=0"}],"mark":{"type":"line","color":"#1e1e1e","strokeWidth":0.9,"clip":true},"encoding":{"detail":{"field":"id"},"order":{"field":"s","type":"quantitative"}}},
{"data":{"name":"cont"},"transform":[{"filter":"datum.p=='a' && datum.lv<0"}],"mark":{"type":"line","color":"#1e1e1e","strokeWidth":0.9,"strokeDash":[2,2],"clip":true},"encoding":{"detail":{"field":"id"},"order":{"field":"s","type":"quantitative"}}},
{"data":{"name":"edges"},"transform":[{"filter":"datum.p=='a'"}],"mark":{"type":"line","color":"#000000","strokeWidth":1},"encoding":{"detail":{"field":"id"},"order":{"field":"s","type":"quantitative"}}},
{"data":{"name":"topo"},"mark":{"type":"line","fill":"#d8d8d8","color":"#000000","strokeWidth":1,"clip":true},"encoding":{"order":{"field":"s","type":"quantitative"}}},
{"data":{"name":"labels"},"transform":[{"filter":"datum.p=='a' && datum.o=='h'"}],"mark":{"type":"text","font":"DejaVu Sans","fontSize":16,"color":"#000000","baseline":"middle","align":"center"},"encoding":{"text":{"field":"t"}}},
{"data":{"name":"labels"},"transform":[{"filter":"datum.p=='a' && datum.o=='v'"}],"mark":{"type":"text","font":"DejaVu Sans","fontSize":16,"color":"#000000","baseline":"middle","align":"center","angle":270},"encoding":{"text":{"field":"t"}}},
{"data":{"name":"labels"},"transform":[{"filter":"datum.p=='a' && datum.o=='d'"}],"mark":{"type":"text","font":"DejaVu Sans","fontSize":16,"color":"#000000","baseline":"middle","align":"center","angle":300},"encoding":{"text":{"field":"t"}}},
{"data":{"name":"stations"},"mark":{"type":"circle","size":55,"color":"#000000","opacity":1,"yOffset":2},"encoding":{}},
{"data":{"name":"stations"},"mark":{"type":"text","font":"Liberation Sans","fontSize":17,"color":"#000000","baseline":"alphabetic","align":"center","dy":-4},"encoding":{"text":{"field":"st"}}},
{"data":{"name":"notes"},"transform":[{"filter":"datum.p=='a'"}],"mark":{"type":"text","font":"DejaVu Sans","fontSize":18.5,"color":"#000000","baseline":"middle","align":"left"},"encoding":{"text":{"field":"t"}}}
]},
{"width": 416, "height": 236,
"encoding": {
"x": {"field":"dist","type":"quantitative","scale":{"domain":[0,416],"nice":false,"zero":false},"axis":{"title":null,"values":[33,84,134.5,185.5,245.5,298,353.5],"labelExpr":"datum.value < 50 ? '74°' : datum.value < 100 ? '73°30' : datum.value < 160 ? '73°' : datum.value < 210 ? '72°30' : datum.value < 270 ? '72°' : datum.value < 320 ? '71°30' : '71°'","tickSize":-11,"tickColor":"#000000","labelPadding":11,"labelFont":"DejaVu Sans","labelFontSize":15,"labelColor":"#000000","labelOverlap":false,"labelFlush":false,"domainColor":"#000000","grid":false,"zindex":1}},
"y": {"field":"depth","type":"quantitative","scale":{"domain":[0,500],"reverse":true,"nice":false,"zero":false},"axis":{"title":null,"values":[0,100,200,300,400,500],"ticks":false,"labelPadding":6,"labelFont":"Liberation Sans","labelFontSize":18,"labelColor":"#000000","domainColor":"#000000","grid":false,"zindex":1}}
},
"layer": [
{"data":{"name":"fills"},"transform":[{"filter":"datum.p=='b' && datum.k=='pos'"}],"mark":{"type":"line","fill":"#ececec","strokeOpacity":0,"clip":true},"encoding":{"detail":{"field":"id"},"order":{"field":"s","type":"quantitative"}}},
{"data":{"name":"cont"},"transform":[{"filter":"datum.p=='b' && datum.lv>=0"}],"mark":{"type":"line","color":"#1e1e1e","strokeWidth":0.9,"clip":true},"encoding":{"detail":{"field":"id"},"order":{"field":"s","type":"quantitative"}}},
{"data":{"name":"cont"},"transform":[{"filter":"datum.p=='b' && datum.lv<0"}],"mark":{"type":"line","color":"#1e1e1e","strokeWidth":0.9,"strokeDash":[2,2],"clip":true},"encoding":{"detail":{"field":"id"},"order":{"field":"s","type":"quantitative"}}},
{"data":{"name":"thick"},"mark":{"type":"line","color":"#333333","strokeWidth":2.5},"encoding":{"order":{"field":"s","type":"quantitative"}}},
{"data":{"name":"edges"},"transform":[{"filter":"datum.p=='b'"}],"mark":{"type":"line","color":"#000000","strokeWidth":1},"encoding":{"detail":{"field":"id"},"order":{"field":"s","type":"quantitative"}}},
{"data":{"name":"topo"},"mark":{"type":"line","fill":"#d8d8d8","color":"#000000","strokeWidth":1,"clip":true},"encoding":{"order":{"field":"s","type":"quantitative"}}},
{"data":{"name":"labels"},"transform":[{"filter":"datum.p=='b' && datum.o=='h'"}],"mark":{"type":"text","font":"DejaVu Sans","fontSize":16,"color":"#000000","baseline":"middle","align":"center"},"encoding":{"text":{"field":"t"}}},
{"data":{"name":"labels"},"transform":[{"filter":"datum.p=='b' && datum.o=='v'"}],"mark":{"type":"text","font":"DejaVu Sans","fontSize":16,"color":"#000000","baseline":"middle","align":"center","angle":270},"encoding":{"text":{"field":"t"}}},
{"data":{"name":"stations"},"mark":{"type":"circle","size":55,"color":"#000000","opacity":1,"yOffset":2},"encoding":{}},
{"data":{"name":"stations"},"mark":{"type":"text","font":"Liberation Sans","fontSize":17,"color":"#000000","baseline":"alphabetic","align":"center","dy":-4},"encoding":{"text":{"field":"st"}}},
{"data":{"name":"notes"},"transform":[{"filter":"datum.p=='b'"}],"mark":{"type":"text","font":"DejaVu Sans","fontSize":18.5,"color":"#000000","baseline":"middle","align":"left"},"encoding":{"text":{"field":"t"}}}
]}
], "spacing": 41},
{"hconcat": [
{"width": 422, "height": 236,
"encoding": {
"x": {"field":"dist","type":"quantitative","scale":{"domain":[0,422],"nice":false,"zero":false},"axis":{"title":null,"values":[33,84,134.5,185.5,245.5,298,353.5],"labelExpr":"datum.value < 50 ? '74°' : datum.value < 100 ? '73°30' : datum.value < 160 ? '73°' : datum.value < 210 ? '72°30' : datum.value < 270 ? '72°' : datum.value < 320 ? '71°30' : '71°'","tickSize":-11,"tickColor":"#000000","labelPadding":11,"labelFont":"DejaVu Sans","labelFontSize":15,"labelColor":"#000000","labelOverlap":false,"labelFlush":false,"domainColor":"#000000","grid":false,"zindex":1}},
"y": {"field":"depth","type":"quantitative","scale":{"domain":[0,500],"reverse":true,"nice":false,"zero":false},"axis":{"title":null,"values":[0,100,200,300,400,500],"ticks":false,"labelPadding":6,"labelFont":"Liberation Sans","labelFontSize":18,"labelColor":"#000000","domainColor":"#000000","grid":false,"zindex":1}}
},
"layer": [
{"data":{"name":"fills"},"transform":[{"filter":"datum.p=='c' && datum.k=='pos'"}],"mark":{"type":"line","fill":"#ececec","strokeOpacity":0,"clip":true},"encoding":{"detail":{"field":"id"},"order":{"field":"s","type":"quantitative"}}},
{"data":{"name":"fills"},"transform":[{"filter":"datum.p=='c' && datum.k=='neg'"}],"mark":{"type":"line","fill":"#ffffff","strokeOpacity":0,"clip":true},"encoding":{"detail":{"field":"id"},"order":{"field":"s","type":"quantitative"}}},
{"data":{"name":"cont"},"transform":[{"filter":"datum.p=='c' && datum.lv>=0"}],"mark":{"type":"line","color":"#1e1e1e","strokeWidth":0.9,"clip":true},"encoding":{"detail":{"field":"id"},"order":{"field":"s","type":"quantitative"}}},
{"data":{"name":"cont"},"transform":[{"filter":"datum.p=='c' && datum.lv<0"}],"mark":{"type":"line","color":"#1e1e1e","strokeWidth":0.9,"strokeDash":[2,2],"clip":true},"encoding":{"detail":{"field":"id"},"order":{"field":"s","type":"quantitative"}}},
{"data":{"name":"edges"},"transform":[{"filter":"datum.p=='c'"}],"mark":{"type":"line","color":"#000000","strokeWidth":1},"encoding":{"detail":{"field":"id"},"order":{"field":"s","type":"quantitative"}}},
{"data":{"name":"topo"},"mark":{"type":"line","fill":"#d8d8d8","color":"#000000","strokeWidth":1,"clip":true},"encoding":{"order":{"field":"s","type":"quantitative"}}},
{"data":{"name":"labels"},"transform":[{"filter":"datum.p=='c' && datum.o=='h'"}],"mark":{"type":"text","font":"DejaVu Sans","fontSize":16,"color":"#000000","baseline":"middle","align":"center"},"encoding":{"text":{"field":"t"}}},
{"data":{"name":"stations"},"mark":{"type":"circle","size":55,"color":"#000000","opacity":1,"yOffset":2},"encoding":{}},
{"data":{"name":"stations"},"mark":{"type":"text","font":"Liberation Sans","fontSize":17,"color":"#000000","baseline":"alphabetic","align":"center","dy":-4},"encoding":{"text":{"field":"st"}}},
{"data":{"name":"notes"},"transform":[{"filter":"datum.p=='c'"}],"mark":{"type":"text","font":"DejaVu Sans","fontSize":18.5,"color":"#000000","baseline":"middle","align":"left"},"encoding":{"text":{"field":"t"}}}
]},
{"width": 416, "height": 236,
"encoding": {
"x": {"field":"dist","type":"quantitative","scale":{"domain":[0,416],"nice":false,"zero":false},"axis":{"title":null,"values":[33,84,134.5,185.5,245.5,298,353.5],"labelExpr":"datum.value < 50 ? '74°' : datum.value < 100 ? '73°30' : datum.value < 160 ? '73°' : datum.value < 210 ? '72°30' : datum.value < 270 ? '72°' : datum.value < 320 ? '71°30' : '71°'","tickSize":-11,"tickColor":"#000000","labelPadding":11,"labelFont":"DejaVu Sans","labelFontSize":15,"labelColor":"#000000","labelOverlap":false,"labelFlush":false,"domainColor":"#000000","grid":false,"zindex":1}},
"y": {"field":"depth","type":"quantitative","scale":{"domain":[0,500],"reverse":true,"nice":false,"zero":false},"axis":{"title":null,"values":[0,100,200,300,400,500],"ticks":false,"labelPadding":6,"labelFont":"Liberation Sans","labelFontSize":18,"labelColor":"#000000","domainColor":"#000000","grid":false,"zindex":1}}
},
"layer": [
{"data":{"name":"fills"},"transform":[{"filter":"datum.p=='d' && datum.k=='pos'"}],"mark":{"type":"line","fill":"#ececec","strokeOpacity":0,"clip":true},"encoding":{"detail":{"field":"id"},"order":{"field":"s","type":"quantitative"}}},
{"data":{"name":"cont"},"transform":[{"filter":"datum.p=='d' && datum.lv>=0"}],"mark":{"type":"line","color":"#1e1e1e","strokeWidth":0.9,"clip":true},"encoding":{"detail":{"field":"id"},"order":{"field":"s","type":"quantitative"}}},
{"data":{"name":"cont"},"transform":[{"filter":"datum.p=='d' && datum.lv<0"}],"mark":{"type":"line","color":"#1e1e1e","strokeWidth":0.9,"strokeDash":[2,2],"clip":true},"encoding":{"detail":{"field":"id"},"order":{"field":"s","type":"quantitative"}}},
{"data":{"name":"edges"},"transform":[{"filter":"datum.p=='d'"}],"mark":{"type":"line","color":"#000000","strokeWidth":1.5},"encoding":{"detail":{"field":"id"},"order":{"field":"s","type":"quantitative"}}},
{"data":{"name":"topo"},"mark":{"type":"line","fill":"#d8d8d8","color":"#000000","strokeWidth":1,"clip":true},"encoding":{"order":{"field":"s","type":"quantitative"}}},
{"data":{"name":"labels"},"transform":[{"filter":"datum.p=='d' && datum.o=='h'"}],"mark":{"type":"text","font":"DejaVu Sans","fontSize":16,"color":"#000000","baseline":"middle","align":"center"},"encoding":{"text":{"field":"t"}}},
{"data":{"name":"labels"},"transform":[{"filter":"datum.p=='d' && datum.o=='v'"}],"mark":{"type":"text","font":"DejaVu Sans","fontSize":16,"color":"#000000","baseline":"middle","align":"center","angle":270},"encoding":{"text":{"field":"t"}}},
{"data":{"name":"labels"},"transform":[{"filter":"datum.p=='d' && datum.o=='d'"}],"mark":{"type":"text","font":"DejaVu Sans","fontSize":16,"color":"#000000","baseline":"middle","align":"center","angle":300},"encoding":{"text":{"field":"t"}}},
{"data":{"name":"stations"},"mark":{"type":"circle","size":55,"color":"#000000","opacity":1,"yOffset":2},"encoding":{}},
{"data":{"name":"stations"},"mark":{"type":"text","font":"Liberation Sans","fontSize":17,"color":"#000000","baseline":"alphabetic","align":"center","dy":-4},"encoding":{"text":{"field":"st"}}},
{"data":{"name":"notes"},"transform":[{"filter":"datum.p=='d'"}],"mark":{"type":"text","font":"DejaVu Sans","fontSize":18.5,"color":"#000000","baseline":"middle","align":"left"},"encoding":{"text":{"field":"t"}}}
]}
], "spacing": 41}
]
}
